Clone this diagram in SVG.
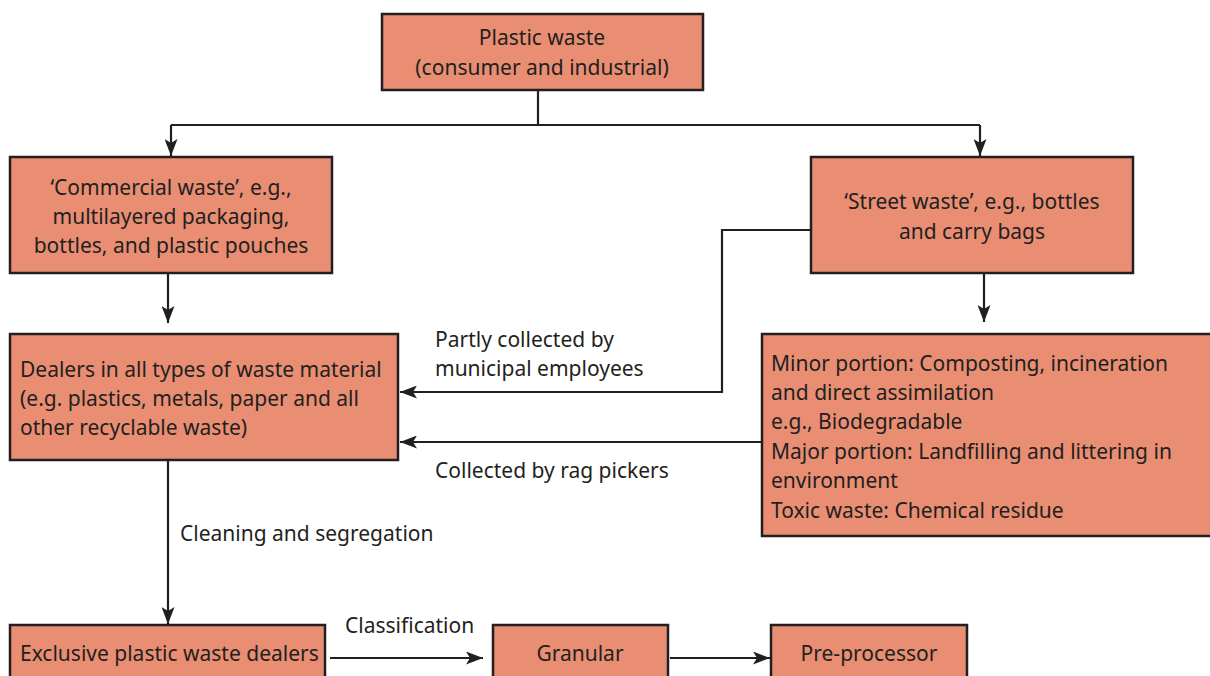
<svg xmlns="http://www.w3.org/2000/svg" width="1210" height="676" viewBox="0 0 1210 676">
  <defs>
    <marker id="arrow" viewBox="0 0 17 13" refX="17" refY="6.5" markerWidth="17" markerHeight="13" markerUnits="userSpaceOnUse" orient="auto">
      <path d="M0,0 L17,6.5 L0,13 L4,6.5 Z" fill="#231f20"/>
    </marker>
    <style>
      .box { fill: #e98e73; stroke: #231f20; stroke-width: 2.5; }
      .t { font-family: "Noto Sans", "Open Sans", sans-serif; font-size: 21px; fill: #231f20; }
      .c { text-anchor: middle; }
      .edge { fill: none; stroke: #231f20; stroke-width: 2.2; }
    </style>
  </defs>
  <rect width="1210" height="676" fill="#ffffff"/>

  <g id="connectors">
    <path class="edge" d="M538,90 V125 M171,125 H980"/>
    <path class="edge" d="M171,125 V156" marker-end="url(#arrow)"/>
    <path class="edge" d="M980,125 V156" marker-end="url(#arrow)"/>
    <path class="edge" d="M168,273 V323" marker-end="url(#arrow)"/>
    <path class="edge" d="M984,273 V322" marker-end="url(#arrow)"/>
    <path class="edge" d="M811,230 H722 V392 H400" marker-end="url(#arrow)"/>
    <path class="edge" d="M762,442 H400" marker-end="url(#arrow)"/>
    <path class="edge" d="M168,460 V624" marker-end="url(#arrow)"/>
    <path class="edge" d="M330,658 H483" marker-end="url(#arrow)"/>
    <path class="edge" d="M670,658 H770" marker-end="url(#arrow)"/>
    <text class="t" x="435" y="347">Partly collected by</text>
    <text class="t" x="435" y="376">municipal employees</text>
    <text class="t" x="435" y="478">Collected by rag pickers</text>
    <text class="t" x="180" y="541">Cleaning and segregation</text>
    <text class="t" x="345" y="633">Classification</text>
  </g>

  <g id="plastic-waste">
    <rect class="box" x="382" y="14" width="321" height="76"/>
    <text class="t c" x="542" y="45">Plastic waste</text>
    <text class="t c" x="542" y="75">(consumer and industrial)</text>
  </g>

  <g id="commercial-waste">
    <rect class="box" x="10" y="157" width="322" height="116"/>
    <text class="t c" x="171" y="195">‘Commercial waste’, e.g.,</text>
    <text class="t c" x="171" y="224">multilayered packaging,</text>
    <text class="t c" x="171" y="253">bottles, and plastic pouches</text>
  </g>

  <g id="street-waste">
    <rect class="box" x="811" y="157" width="322" height="116"/>
    <text class="t c" x="972" y="209">‘Street waste’, e.g., bottles</text>
    <text class="t c" x="972" y="239">and carry bags</text>
  </g>

  <g id="dealers">
    <rect class="box" x="10" y="334" width="388" height="126"/>
    <text class="t" x="20" y="377">Dealers in all types of waste material</text>
    <text class="t" x="20" y="406">(e.g. plastics, metals, paper and all</text>
    <text class="t" x="20" y="435">other recyclable waste)</text>
  </g>

  <g id="disposal">
    <rect class="box" x="762" y="334" width="460" height="202"/>
    <text class="t" x="771" y="371">Minor portion: Composting, incineration</text>
    <text class="t" x="771" y="400">and direct assimilation</text>
    <text class="t" x="771" y="429">e.g., Biodegradable</text>
    <text class="t" x="771" y="459">Major portion: Landfilling and littering in</text>
    <text class="t" x="771" y="488">environment</text>
    <text class="t" x="771" y="518">Toxic waste: Chemical residue</text>
  </g>

  <g id="exclusive-dealers">
    <rect class="box" x="10" y="625" width="315" height="70"/>
    <text class="t" x="20" y="661">Exclusive plastic waste dealers</text>
  </g>

  <g id="granular">
    <rect class="box" x="493" y="625" width="175" height="70"/>
    <text class="t c" x="580" y="661">Granular</text>
  </g>

  <g id="pre-processor">
    <rect class="box" x="771" y="625" width="196" height="70"/>
    <text class="t c" x="869" y="661">Pre-processor</text>
  </g>
</svg>
